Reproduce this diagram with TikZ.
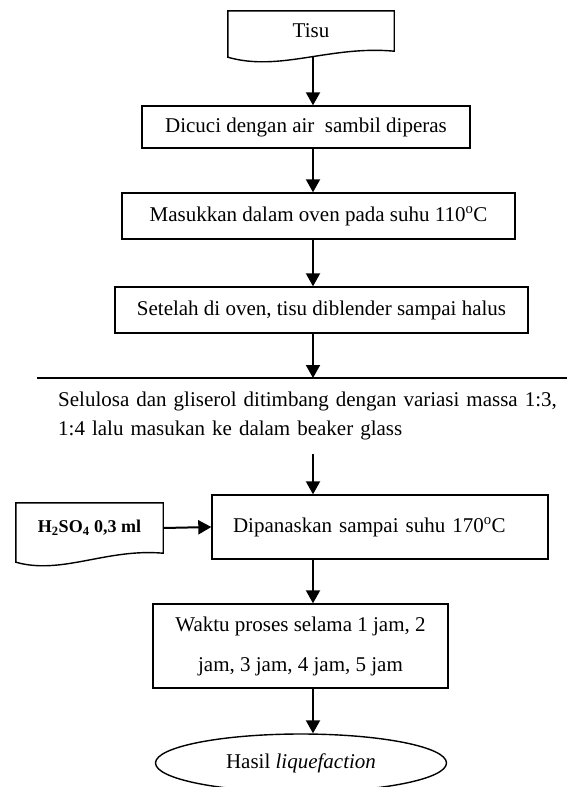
\documentclass[tikz,border=0pt]{standalone}
\usepackage{fontspec}
\setmainfont{Liberation Serif}
\usetikzlibrary{arrows.meta,shapes.geometric}
\begin{document}
\begin{tikzpicture}[x=1pt,y=-1pt,
        every node/.style={font=\fontsize{21}{29}\selectfont},
        box/.style={draw,line width=1.4pt,minimum height=#1,inner sep=0pt},
        arr/.style={line width=2pt,-{Triangle[length=13pt,width=14pt]}}]
    \useasboundingbox (0,0) rectangle (566,787);
    \coordinate (axis) at (313,0);
    \node[minimum width=166pt,minimum height=40pt,inner sep=0pt] (tisu) at (311,31) {Tisu};
    \draw[line width=1.4pt] (tisu.north west) -- (tisu.north east) -- (tisu.south east)
        .. controls +(-64,-6) and +(52,15) .. ([yshift=-6pt]tisu.south west) -- cycle;
    \node[box=42pt,minimum width=328pt] (dicuci) at (306,127) {Dicuci dengan air\ \ sambil diperas};
    \node[box=46pt,minimum width=393pt] (oven) at (318.5,216) {Masukkan dalam oven pada suhu 110\textsuperscript{o}C};
    \node[box=46pt,minimum width=413pt] (blender) at (321.5,310) {Setelah di oven, tisu diblender sampai halus};
    \node[minimum height=76pt,text width=521pt,inner xsep=21pt,inner ysep=0pt,align=left,anchor=north west] (timbang) at (37,378)
        {Selulosa dan gliserol ditimbang dengan variasi massa 1:3,\\1:4 lalu masukan ke dalam beaker glass};
    \draw[line width=1.4pt] (timbang.north west) -- (timbang.north east);
    \node[box=64pt,text width=294pt,inner xsep=21pt,align=left] (panas) at (380,527) {Dipanaskan sampai suhu 170\textsuperscript{o}C};
    \node[minimum width=147pt,minimum height=50pt,inner sep=0pt,font=\fontsize{18}{22}\selectfont\bfseries] (asam) at (89.5,528)
        {H\textsubscript{2}SO\textsubscript{4} 0,3 ml};
    \draw[line width=1.4pt] (asam.north west) -- (asam.north east) -- (asam.south east)
        .. controls +(-57,-5) and +(46,13) .. ([yshift=-9pt]asam.south west) -- cycle;
    \node[box=84pt,minimum width=295pt,align=center] (waktu) at (300.5,646) {Waktu proses selama 1 jam, 2\\[11pt]jam, 3 jam, 4 jam, 5 jam};
    \node[draw,ellipse,line width=1.4pt,minimum width=291pt,minimum height=58pt,inner sep=0pt] (hasil) at (301,763) {Hasil \textit{liquefaction}};
    \draw[arr] ([yshift=-5pt]tisu.south -| axis) -- (dicuci.north -| axis);
    \draw[arr] (dicuci.south -| axis) -- (oven.north -| axis);
    \draw[arr] (oven.south -| axis) -- (blender.north -| axis);
    \draw[arr] (blender.south -| axis) -- (timbang.north -| axis);
    \draw[arr] (timbang.south -| axis) -- (panas.north -| axis);
    \draw[arr] (asam.east) -- (panas.west);
    \draw[arr] (panas.south -| axis) -- (waktu.north -| axis);
    \draw[arr] (waktu.south -| axis) -- (hasil.north -| axis);
\end{tikzpicture}
\end{document}
